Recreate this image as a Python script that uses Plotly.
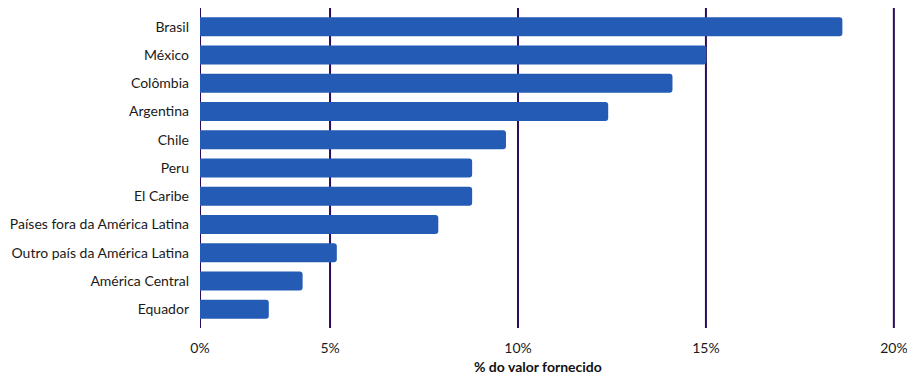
import plotly.graph_objects as go

categories = ["Brasil", "México", "Colômbia", "Argentina", "Chile", "Peru", "El Caribe",
              "Países fora da América Latina", "Outro país da América Latina",
              "América Central", "Equador"]
values = [18.63, 15.01, 14.11, 12.40, 9.68, 8.78, 8.78, 7.88, 5.18, 4.27, 3.37]
tick_vals = [1.54, 5, 10, 15, 20]
tick_text = ["0%", "5%", "10%", "15%", "20%"]
x_title = "<b>% do valor fornecido</b>"

fig = go.Figure(go.Bar(
    x=values, y=categories, orientation="h",
    marker=dict(color="#245bb5", line=dict(width=0)),
    hoverinfo="x+y",
))

for tv in tick_vals:
    fig.add_shape(type="line", xref="x", yref="paper", x0=tv, x1=tv, y0=0, y1=1,
                  line=dict(color="#2b0c5c", width=2), layer="below")

fig.add_annotation(text=x_title, xref="paper", yref="paper", x=0.486, y=0,
                   xanchor="center", yanchor="bottom", yshift=-48, showarrow=False,
                   borderpad=0, font=dict(size=14, color="#111111"))

fig.update_layout(
    width=907, height=377,
    margin=dict(l=200, r=12, t=8, b=49),
    paper_bgcolor="white", plot_bgcolor="white",
    font=dict(family="Lato", size=14, color="#1a1a1a"),
    bargap=0.33,
    barcornerradius=3,
    showlegend=False,
)
fig.update_xaxes(
    range=[1.54, 20.03],
    tickvals=tick_vals, ticktext=tick_text,
    showgrid=False, zeroline=False, showline=False,
    ticks="", ticklabelstandoff=10,
    automargin=False, ticklabeloverflow="allow",
    tickfont=dict(size=14),
)
fig.update_yaxes(
    range=[10.66, -0.66],
    showgrid=False, zeroline=False, showline=False,
    ticks="", ticklabelstandoff=10,
    automargin=False,
)

fig.write_html("out.html")
